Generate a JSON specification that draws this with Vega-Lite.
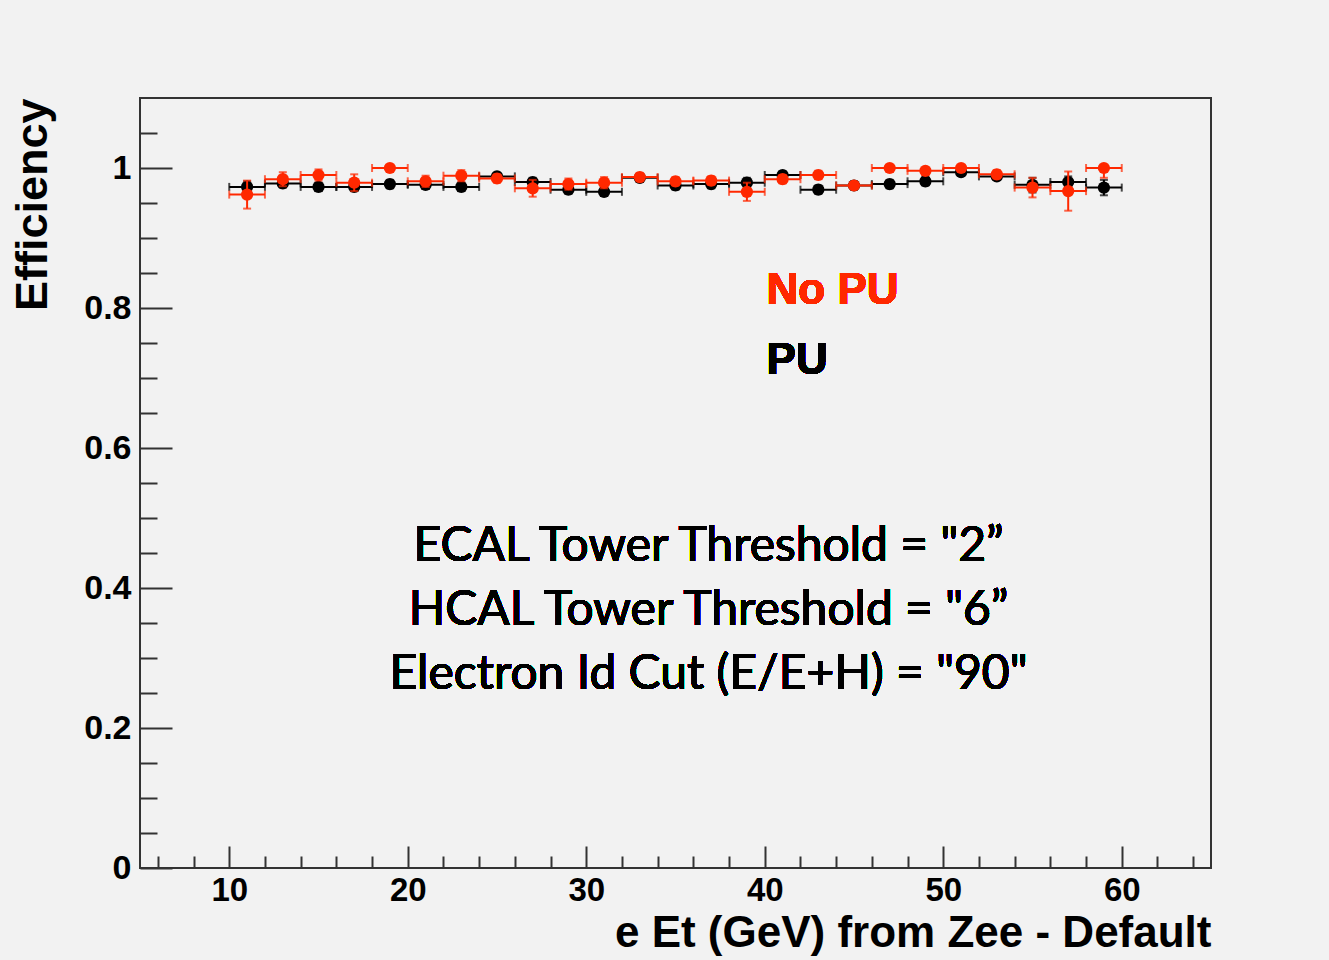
{
  "$schema": "https://vega.github.io/schema/vega-lite/v6.json",
  "width": 1071,
  "height": 770,
  "autosize": "none",
  "padding": {"left": 140, "top": 98, "right": 118, "bottom": 92},
  "background": "#f2f2f2",
  "config": {
    "view": {"stroke": "#333333", "strokeWidth": 2, "fill": "#f2f2f2"},
    "axis": {"grid": false, "domain": false, "tickColor": "#333333", "tickWidth": 2, "labelColor": "#000000", "titleColor": "#000000", "labelFont": "Liberation Sans", "titleFont": "Liberation Sans", "labelFontWeight": "bold", "titleFontWeight": "bold"}
  },
  "data": {
    "values": [
      {"s": "PU", "x": 11, "lo": 10, "hi": 12, "eff": 0.973, "elo": 0.965, "ehi": 0.981},
      {"s": "PU", "x": 13, "lo": 12, "hi": 14, "eff": 0.978, "elo": 0.972, "ehi": 0.984},
      {"s": "PU", "x": 15, "lo": 14, "hi": 16, "eff": 0.973, "elo": 0.967, "ehi": 0.979},
      {"s": "PU", "x": 17, "lo": 16, "hi": 18, "eff": 0.973, "elo": 0.967, "ehi": 0.979},
      {"s": "PU", "x": 19, "lo": 18, "hi": 20, "eff": 0.977, "elo": 0.971, "ehi": 0.983},
      {"s": "PU", "x": 21, "lo": 20, "hi": 22, "eff": 0.976, "elo": 0.970, "ehi": 0.982},
      {"s": "PU", "x": 23, "lo": 22, "hi": 24, "eff": 0.973, "elo": 0.967, "ehi": 0.979},
      {"s": "PU", "x": 25, "lo": 24, "hi": 26, "eff": 0.988, "elo": 0.983, "ehi": 0.993},
      {"s": "PU", "x": 27, "lo": 26, "hi": 28, "eff": 0.980, "elo": 0.974, "ehi": 0.986},
      {"s": "PU", "x": 29, "lo": 28, "hi": 30, "eff": 0.969, "elo": 0.963, "ehi": 0.975},
      {"s": "PU", "x": 31, "lo": 30, "hi": 32, "eff": 0.966, "elo": 0.960, "ehi": 0.972},
      {"s": "PU", "x": 33, "lo": 32, "hi": 34, "eff": 0.986, "elo": 0.981, "ehi": 0.991},
      {"s": "PU", "x": 35, "lo": 34, "hi": 36, "eff": 0.975, "elo": 0.969, "ehi": 0.981},
      {"s": "PU", "x": 37, "lo": 36, "hi": 38, "eff": 0.977, "elo": 0.971, "ehi": 0.983},
      {"s": "PU", "x": 39, "lo": 38, "hi": 40, "eff": 0.979, "elo": 0.972, "ehi": 0.986},
      {"s": "PU", "x": 41, "lo": 40, "hi": 42, "eff": 0.990, "elo": 0.985, "ehi": 0.995},
      {"s": "PU", "x": 43, "lo": 42, "hi": 44, "eff": 0.969, "elo": 0.963, "ehi": 0.975},
      {"s": "PU", "x": 45, "lo": 44, "hi": 46, "eff": 0.975, "elo": 0.969, "ehi": 0.981},
      {"s": "PU", "x": 47, "lo": 46, "hi": 48, "eff": 0.977, "elo": 0.971, "ehi": 0.983},
      {"s": "PU", "x": 49, "lo": 48, "hi": 50, "eff": 0.981, "elo": 0.975, "ehi": 0.987},
      {"s": "PU", "x": 51, "lo": 50, "hi": 52, "eff": 0.994, "elo": 0.990, "ehi": 0.998},
      {"s": "PU", "x": 53, "lo": 52, "hi": 54, "eff": 0.988, "elo": 0.983, "ehi": 0.993},
      {"s": "PU", "x": 55, "lo": 54, "hi": 56, "eff": 0.976, "elo": 0.965, "ehi": 0.986},
      {"s": "PU", "x": 57, "lo": 56, "hi": 58, "eff": 0.980, "elo": 0.972, "ehi": 0.988},
      {"s": "PU", "x": 59, "lo": 58, "hi": 60, "eff": 0.972, "elo": 0.961, "ehi": 0.983},
      {"s": "NoPU", "x": 11, "lo": 10, "hi": 12, "eff": 0.962, "elo": 0.942, "ehi": 0.982},
      {"s": "NoPU", "x": 13, "lo": 12, "hi": 14, "eff": 0.984, "elo": 0.974, "ehi": 0.994},
      {"s": "NoPU", "x": 15, "lo": 14, "hi": 16, "eff": 0.990, "elo": 0.982, "ehi": 0.998},
      {"s": "NoPU", "x": 17, "lo": 16, "hi": 18, "eff": 0.979, "elo": 0.967, "ehi": 0.991},
      {"s": "NoPU", "x": 19, "lo": 18, "hi": 20, "eff": 1.0, "elo": 0.995, "ehi": 1.0},
      {"s": "NoPU", "x": 21, "lo": 20, "hi": 22, "eff": 0.981, "elo": 0.973, "ehi": 0.989},
      {"s": "NoPU", "x": 23, "lo": 22, "hi": 24, "eff": 0.989, "elo": 0.981, "ehi": 0.997},
      {"s": "NoPU", "x": 25, "lo": 24, "hi": 26, "eff": 0.985, "elo": 0.979, "ehi": 0.991},
      {"s": "NoPU", "x": 27, "lo": 26, "hi": 28, "eff": 0.971, "elo": 0.959, "ehi": 0.983},
      {"s": "NoPU", "x": 29, "lo": 28, "hi": 30, "eff": 0.977, "elo": 0.969, "ehi": 0.985},
      {"s": "NoPU", "x": 31, "lo": 30, "hi": 32, "eff": 0.979, "elo": 0.971, "ehi": 0.987},
      {"s": "NoPU", "x": 33, "lo": 32, "hi": 34, "eff": 0.987, "elo": 0.981, "ehi": 0.993},
      {"s": "NoPU", "x": 35, "lo": 34, "hi": 36, "eff": 0.981, "elo": 0.975, "ehi": 0.987},
      {"s": "NoPU", "x": 37, "lo": 36, "hi": 38, "eff": 0.982, "elo": 0.976, "ehi": 0.988},
      {"s": "NoPU", "x": 39, "lo": 38, "hi": 40, "eff": 0.966, "elo": 0.953, "ehi": 0.979},
      {"s": "NoPU", "x": 41, "lo": 40, "hi": 42, "eff": 0.984, "elo": 0.978, "ehi": 0.990},
      {"s": "NoPU", "x": 43, "lo": 42, "hi": 44, "eff": 0.990, "elo": 0.984, "ehi": 0.996},
      {"s": "NoPU", "x": 45, "lo": 44, "hi": 46, "eff": 0.975, "elo": 0.970, "ehi": 0.980},
      {"s": "NoPU", "x": 47, "lo": 46, "hi": 48, "eff": 1.0, "elo": 0.995, "ehi": 1.0},
      {"s": "NoPU", "x": 49, "lo": 48, "hi": 50, "eff": 0.996, "elo": 0.991, "ehi": 1.0},
      {"s": "NoPU", "x": 51, "lo": 50, "hi": 52, "eff": 1.0, "elo": 0.996, "ehi": 1.0},
      {"s": "NoPU", "x": 53, "lo": 52, "hi": 54, "eff": 0.991, "elo": 0.985, "ehi": 0.997},
      {"s": "NoPU", "x": 55, "lo": 54, "hi": 56, "eff": 0.972, "elo": 0.958, "ehi": 0.986},
      {"s": "NoPU", "x": 57, "lo": 56, "hi": 58, "eff": 0.967, "elo": 0.939, "ehi": 0.995},
      {"s": "NoPU", "x": 59, "lo": 58, "hi": 60, "eff": 1.0, "elo": 0.986, "ehi": 1.0}
    ]
  },
  "resolve": {"axis": {"x": "independent", "y": "independent"}},
  "layer": [
    {
      "transform": [{"filter": "datum.s === 'PU'"}],
      "mark": {"type": "errorbar", "ticks": {"size": 8}, "thickness": 2, "color": "#000000"},
      "encoding": {
        "x": {"field": "lo", "type": "quantitative", "scale": {"domain": [5, 65], "nice": false, "zero": false}, "axis": null},
        "x2": {"field": "hi"},
        "y": {"field": "eff", "type": "quantitative", "scale": {"domain": [0, 1.1], "nice": false}, "axis": null}
      }
    },
    {
      "transform": [{"filter": "datum.s === 'PU'"}],
      "mark": {"type": "errorbar", "ticks": {"size": 8}, "thickness": 2, "color": "#000000"},
      "encoding": {
        "x": {"field": "x", "type": "quantitative", "scale": {"domain": [5, 65], "nice": false, "zero": false}, "axis": null},
        "y": {"field": "elo", "type": "quantitative", "scale": {"domain": [0, 1.1], "nice": false}, "axis": null},
        "y2": {"field": "ehi"}
      }
    },
    {
      "transform": [{"filter": "datum.s === 'PU'"}],
      "mark": {"type": "point", "shape": "circle", "filled": true, "size": 150, "opacity": 1, "color": "#000000"},
      "encoding": {
        "x": {"field": "x", "type": "quantitative", "scale": {"domain": [5, 65], "nice": false, "zero": false},
          "axis": {"orient": "bottom", "values": [10, 20, 30, 40, 50, 60], "format": "d", "tickSize": -22, "labelFontSize": 33, "labelPadding": 28, "title": "e Et (GeV) from Zee - Default", "titleFontSize": 44, "titleAnchor": "end", "titlePadding": 4}},
        "y": {"field": "eff", "type": "quantitative", "scale": {"domain": [0, 1.1], "nice": false},
          "axis": {"orient": "left", "values": [0, 0.2, 0.4, 0.6, 0.8, 1], "format": "~g", "tickSize": -32, "labelFontSize": 34, "labelPadding": 41, "title": "Efficiency", "titleFontSize": 45, "titleAnchor": "end", "titlePadding": 28}}
      }
    },
    {
      "transform": [{"filter": "datum.s === 'NoPU'"}],
      "mark": {"type": "errorbar", "ticks": {"size": 8}, "thickness": 2, "color": "#ff2800"},
      "encoding": {
        "x": {"field": "lo", "type": "quantitative", "scale": {"domain": [5, 65], "nice": false, "zero": false}, "axis": null},
        "x2": {"field": "hi"},
        "y": {"field": "eff", "type": "quantitative", "scale": {"domain": [0, 1.1], "nice": false}, "axis": null}
      }
    },
    {
      "transform": [{"filter": "datum.s === 'NoPU'"}],
      "mark": {"type": "errorbar", "ticks": {"size": 8}, "thickness": 2, "color": "#ff2800"},
      "encoding": {
        "x": {"field": "x", "type": "quantitative", "scale": {"domain": [5, 65], "nice": false, "zero": false}, "axis": null},
        "y": {"field": "elo", "type": "quantitative", "scale": {"domain": [0, 1.1], "nice": false}, "axis": null},
        "y2": {"field": "ehi"}
      }
    },
    {
      "transform": [{"filter": "datum.s === 'NoPU'"}],
      "mark": {"type": "point", "shape": "circle", "filled": true, "size": 150, "opacity": 1, "color": "#ff2800"},
      "encoding": {
        "x": {"field": "x", "type": "quantitative", "scale": {"domain": [5, 65], "nice": false, "zero": false},
          "axis": {"orient": "bottom", "values": [6, 8, 12, 14, 16, 18, 22, 24, 26, 28, 32, 34, 36, 38, 42, 44, 46, 48, 52, 54, 56, 58, 62, 64], "tickSize": -12, "labels": false, "title": null}},
        "y": {"field": "eff", "type": "quantitative", "scale": {"domain": [0, 1.1], "nice": false},
          "axis": {"orient": "left", "values": [0.05, 0.1, 0.15, 0.25, 0.3, 0.35, 0.45, 0.5, 0.55, 0.65, 0.7, 0.75, 0.85, 0.9, 0.95, 1.05], "tickSize": -17, "labels": false, "title": null}}
      }
    },
    {
      "mark": {"type": "text", "text": "No PU", "font": "Liberation Sans", "fontWeight": "bold", "fontSize": 44, "color": "#ff2800", "align": "left", "baseline": "alphabetic"},
      "encoding": {
        "x": {"datum": 40.1, "type": "quantitative", "scale": {"domain": [5, 65], "nice": false, "zero": false}, "axis": null},
        "y": {"datum": 0.806, "type": "quantitative", "scale": {"domain": [0, 1.1], "nice": false}, "axis": null}
      }
    },
    {
      "mark": {"type": "text", "text": "PU", "font": "Liberation Sans", "fontWeight": "bold", "fontSize": 44, "color": "#000000", "align": "left", "baseline": "alphabetic"},
      "encoding": {
        "x": {"datum": 40.1, "type": "quantitative", "scale": {"domain": [5, 65], "nice": false, "zero": false}, "axis": null},
        "y": {"datum": 0.706, "type": "quantitative", "scale": {"domain": [0, 1.1], "nice": false}, "axis": null}
      }
    },
    {
      "mark": {"type": "text", "text": ["ECAL Tower Threshold = \"2”", "HCAL Tower Threshold = \"6”", "Electron Id Cut (E/E+H) = \"90\""], "lineHeight": 64, "font": "Lato", "fontSize": 48, "color": "#000000", "align": "center", "baseline": "middle"},
      "encoding": {
        "x": {"datum": 36.85, "type": "quantitative", "scale": {"domain": [5, 65], "nice": false, "zero": false}, "axis": null},
        "y": {"datum": 0.458, "type": "quantitative", "scale": {"domain": [0, 1.1], "nice": false}, "axis": null}
      }
    }
  ]
}
